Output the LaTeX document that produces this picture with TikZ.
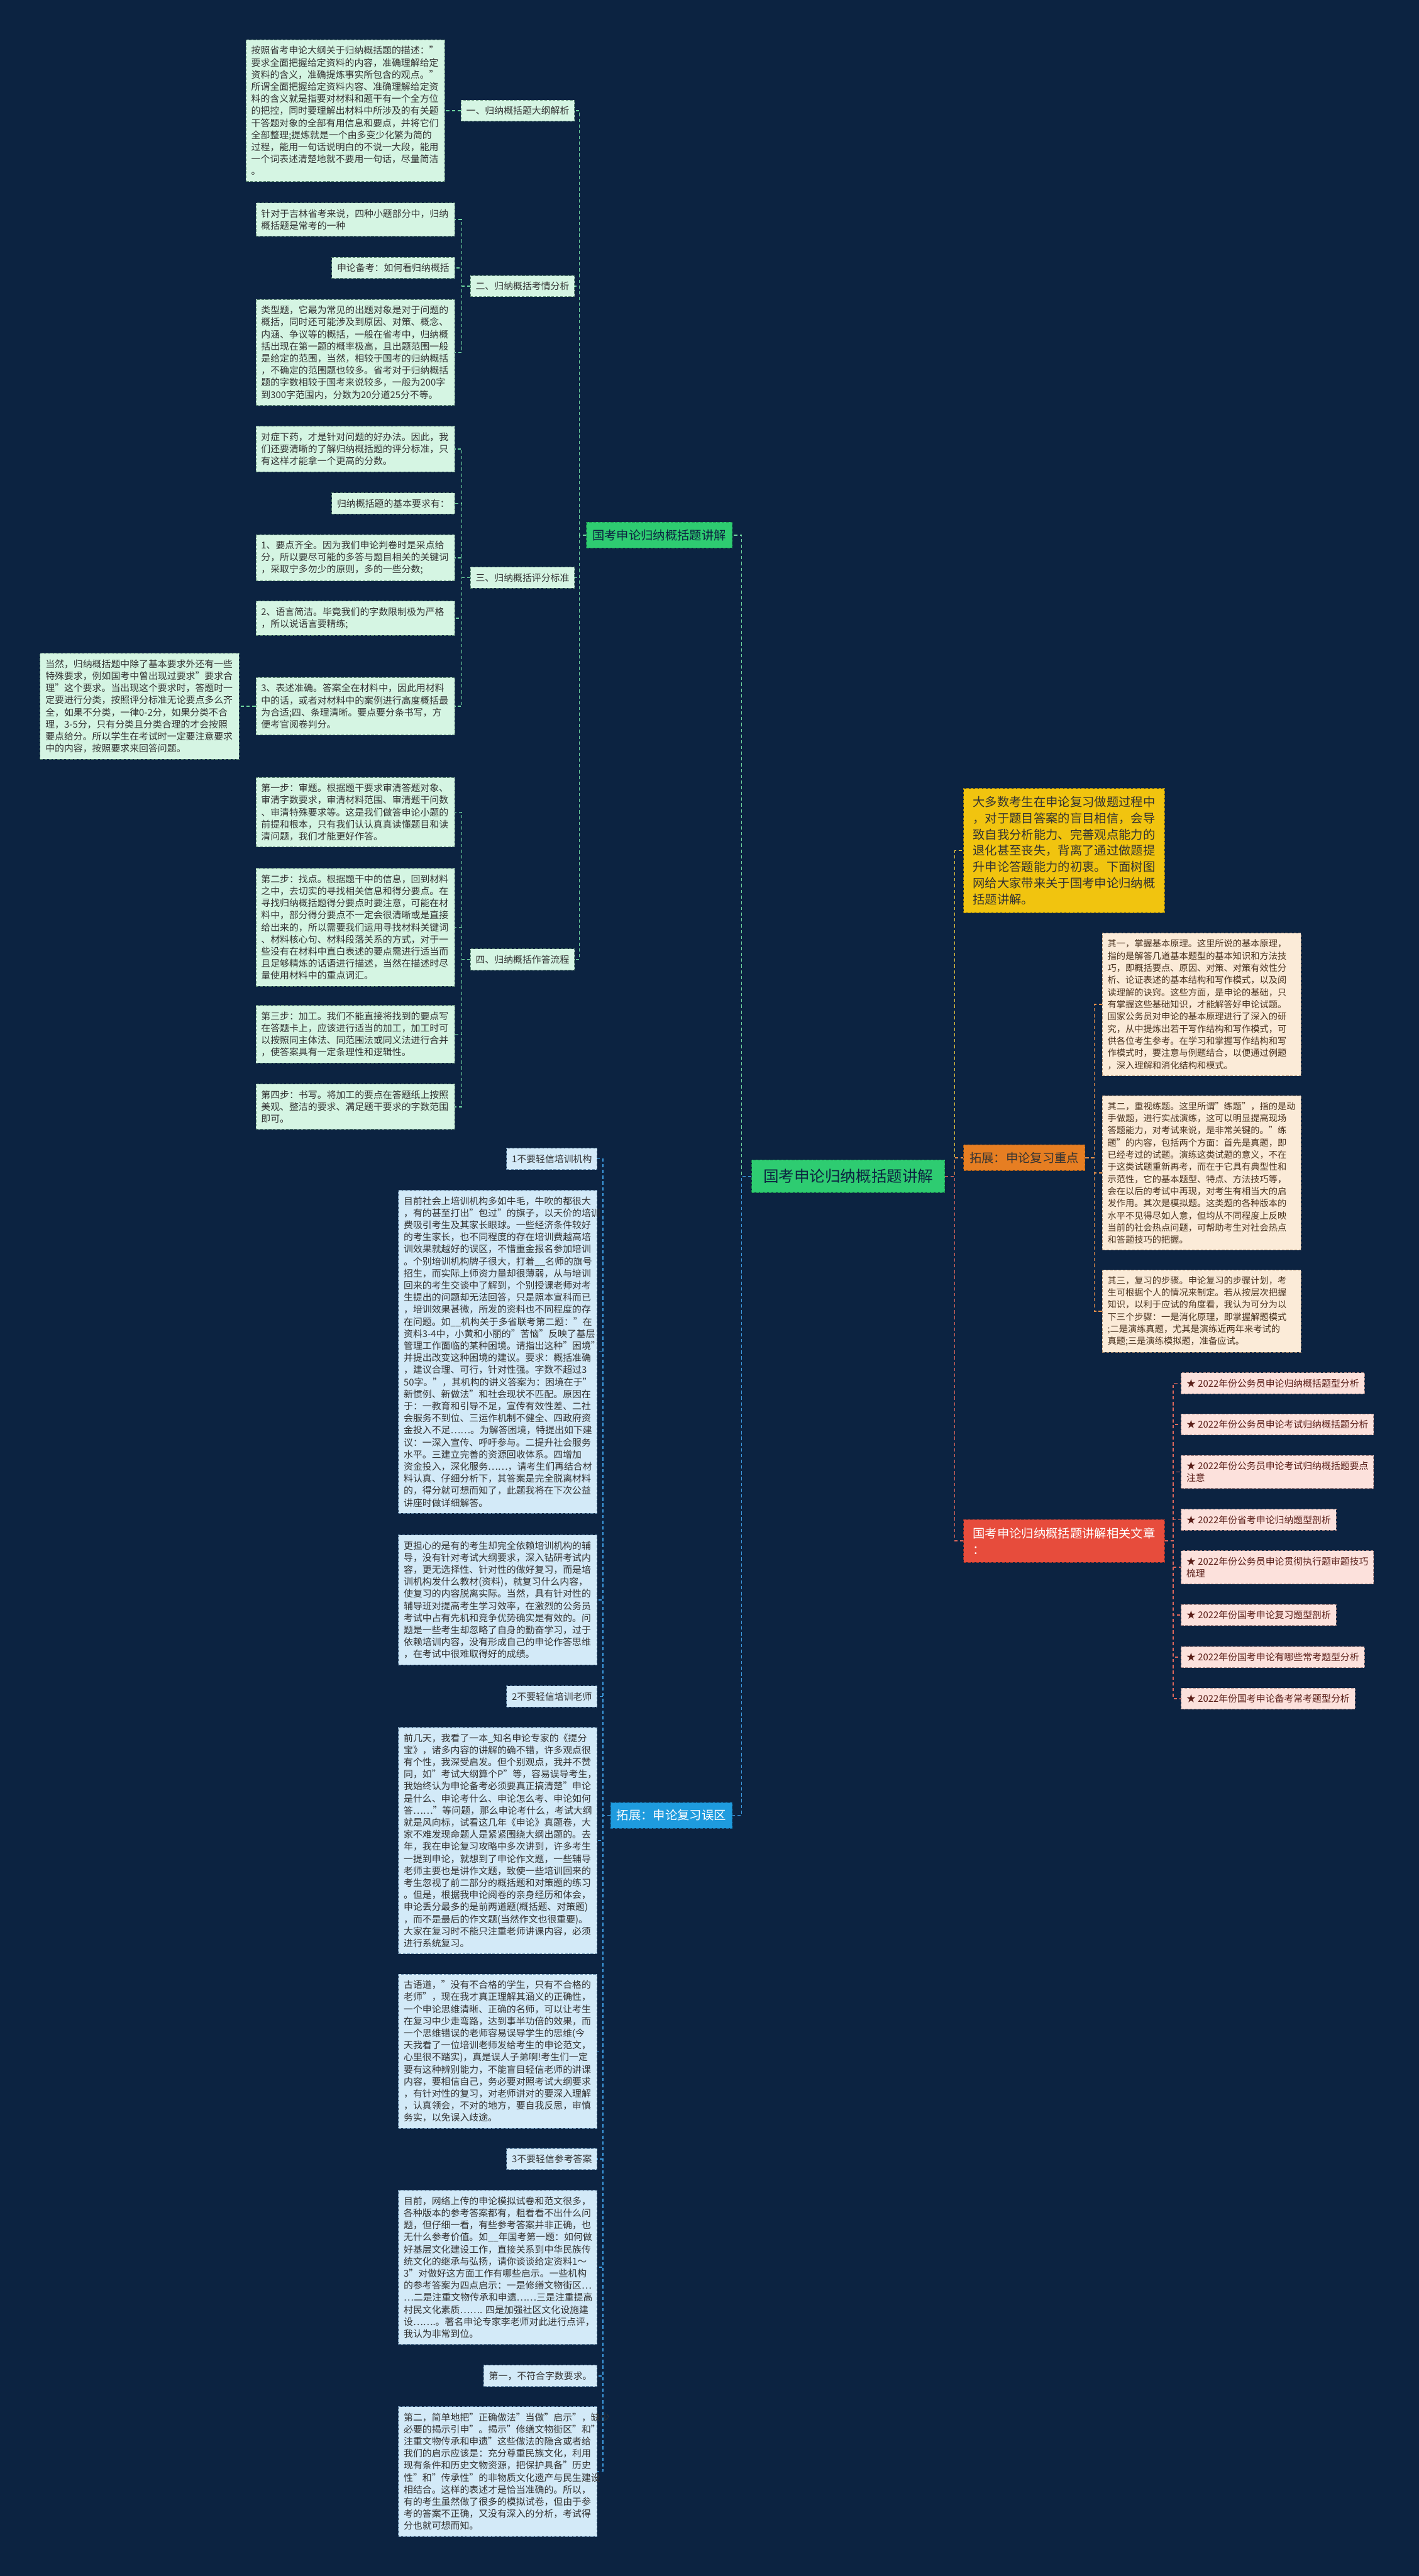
\documentclass[tikz,border=0pt]{standalone}
\usepackage{fontspec}
\setmainfont{Noto Sans CJK SC}
\usepackage[HTML]{xcolor}
\usetikzlibrary{positioning}

\definecolor{bgnavy}{HTML}{0C2341}
\definecolor{inkgray}{HTML}{333333}
\definecolor{mintfill}{HTML}{D5F5E3}
\definecolor{mintedge}{HTML}{5E8A72}
\definecolor{mintwire}{HTML}{6FD6A0}
\definecolor{greenhead}{HTML}{2ECC71}
\definecolor{greenedge}{HTML}{1E8C4C}
\definecolor{rootink}{HTML}{0C2341}
\definecolor{goldfill}{HTML}{F1C40F}
\definecolor{goldedge}{HTML}{A8870A}
\definecolor{goldwire}{HTML}{F4D03F}
\definecolor{orangehead}{HTML}{E67E22}
\definecolor{orangeedge}{HTML}{A85A14}
\definecolor{peachfill}{HTML}{FBEBD8}
\definecolor{peachedge}{HTML}{A88A6E}
\definecolor{peachink}{HTML}{4A3320}
\definecolor{orangewire}{HTML}{E8914A}
\definecolor{redhead}{HTML}{E74C3C}
\definecolor{rededge}{HTML}{A8352A}
\definecolor{pinkfill}{HTML}{FCE1DC}
\definecolor{pinkedge}{HTML}{B08A86}
\definecolor{pinkink}{HTML}{5A1E18}
\definecolor{redwire}{HTML}{E0685C}
\definecolor{bluehead}{HTML}{1E9BDE}
\definecolor{blueedge}{HTML}{14689A}
\definecolor{skyfill}{HTML}{D3EAF8}
\definecolor{skyedge}{HTML}{6A8FAE}
\definecolor{bluewire}{HTML}{3D9BE0}

\newcommand{\leaffont}{\fontsize{5.7}{7.35}\selectfont}
\newcommand{\peachfont}{\fontsize{5.45}{7.4}\selectfont}
\newcommand{\headfont}{\fontsize{7.4}{9.84}\selectfont}
\newcommand{\rootfont}{\fontsize{9.4}{11}\selectfont}

\tikzset{
  box/.style={line width=0.35pt, dash pattern=on 1.6pt off 1pt, inner xsep=3.2pt, inner ysep=3.8pt, align=left, font=\leaffont},
  gleaf/.style={box, draw=mintedge, fill=mintfill, text=inkgray},
  bleaf/.style={box, draw=skyedge, fill=skyfill, text=inkgray},
  oleaf/.style={box, draw=peachedge, fill=peachfill, text=peachink, font=\peachfont},
  rleaf/.style={box, draw=pinkedge, fill=pinkfill, text=pinkink},
  wide/.style={text width=114.6pt},
  head/.style={line width=0.35pt, dash pattern=on 1.6pt off 1pt, inner xsep=3.7pt, inner ysep=4.4pt, align=left, font=\headfont},
  wire/.style={line width=0.55pt, dash pattern=on 2pt off 1.5pt},
}

\begin{document}
\begin{tikzpicture}[x=1pt,y=-1pt]
\fill[bgnavy] (0,0) rectangle (864,1568);
\useasboundingbox (0,0) rectangle (864,1568);

% root
\node[head, fill=greenhead, draw=greenedge, text=rootink, font=\rootfont, inner xsep=7pt, inner ysep=5.6pt] (root) at (516.5,716) {国考申论归纳概括题讲解};

% first level
\node[head, fill=greenhead, draw=greenedge, text=rootink, anchor=east] (gk) at (446,325.7) {国考申论归纳概括题讲解};
\node[head, fill=bluehead, draw=blueedge, text=white, anchor=east] (wq) at (446,1105) {拓展：申论复习误区};
\node[head, fill=goldfill, draw=goldedge, text=inkgray, text width=111pt, inner xsep=5.7pt, inner ysep=4.9pt, anchor=west] (intro) at (586.5,517.8) {大多数考生在申论复习做题过程中\\
，对于题目答案的盲目相信，会导\\
致自我分析能力、完善观点能力的\\
退化甚至丧失，背离了通过做题提\\
升申论答题能力的初衷。下面树图\\
网给大家带来关于国考申论归纳概\\
括题讲解。};
\node[head, fill=orangehead, draw=orangeedge, text=inkgray, anchor=west] (zd) at (586.5,704.7) {拓展：申论复习重点};
\node[head, fill=redhead, draw=rededge, text=white, text width=111pt, inner xsep=5.7pt, inner ysep=4.9pt, anchor=west] (xg) at (586.5,937.9) {国考申论归纳概括题讲解相关文章\\：};

% green: section labels
\node[gleaf, anchor=east] (g1) at (350,67.4) {一、归纳概括题大纲解析};
\node[gleaf, anchor=east] (g2) at (350,174.1) {二、归纳概括考情分析};
\node[gleaf, anchor=east] (g3) at (350,351.6) {三、归纳概括评分标准};
\node[gleaf, anchor=east] (g4) at (350,584.05) {四、归纳概括作答流程};

% green: leaves
\node[gleaf, wide, anchor=east] (g1a) at (271,67.4) {按照省考申论大纲关于归纳概括题的描述："\\
要求全面把握给定资料的内容，准确理解给定\\
资料的含义，准确提炼事实所包含的观点。"\\
所谓全面把握给定资料内容、准确理解给定资\\
料的含义就是指要对材料和题干有一个全方位\\
的把控，同时要理解出材料中所涉及的有关题\\
干答题对象的全部有用信息和要点，并将它们\\
全部整理;提炼就是一个由多变少化繁为简的\\
过程，能用一句话说明白的不说一大段，能用\\
一个词表述清楚地就不要用一句话，尽量简洁\\
。};
\node[gleaf, wide, anchor=east] (g2a) at (277,133.65) {针对于吉林省考来说，四种小题部分中，归纳\\
概括题是常考的一种};
\node[gleaf, anchor=east] (g2b) at (277,163.1) {申论备考：如何看归纳概括};
\node[gleaf, wide, anchor=east] (g2c) at (277,214.5) {类型题，它最为常见的出题对象是对于问题的\\
概括，同时还可能涉及到原因、对策、概念、\\
内涵、争议等的概括，一般在省考中，归纳概\\
括出现在第一题的概率极高，且出题范围一般\\
是给定的范围，当然，相较于国考的归纳概括\\
，不确定的范围题也较多。省考对于归纳概括\\
题的字数相较于国考来说较多，一般为200字\\
到300字范围内，分数为20分道25分不等。};
\node[gleaf, wide, anchor=east] (g3a) at (277,273.3) {对症下药，才是针对问题的好办法。因此，我\\
们还要清晰的了解归纳概括题的评分标准，只\\
有这样才能拿一个更高的分数。};
\node[gleaf, anchor=east] (g3b) at (277,306.4) {归纳概括题的基本要求有：};
\node[gleaf, wide, anchor=east] (g3c) at (277,339.5) {1、要点齐全。因为我们申论判卷时是采点给\\
分，所以要尽可能的多答与题目相关的关键词\\
，采取宁多勿少的原则，多的一些分数;};
\node[gleaf, wide, anchor=east] (g3d) at (277,376.3) {2、语言简洁。毕竟我们的字数限制极为严格\\
，所以说语言要精练;};
\node[gleaf, wide, anchor=east] (g3e) at (277,429.9) {3、表述准确。答案全在材料中，因此用材料\\
中的话，或者对材料中的案例进行高度概括最\\
为合适;四、条理清晰。要点要分条书写，方\\
便考官阅卷判分。};
\node[gleaf, wide, anchor=east] (g3f) at ([xshift=-10pt]g3e.west) {当然，归纳概括题中除了基本要求外还有一些\\
特殊要求，例如国考中曾出现过要求"要求合\\
理"这个要求。当出现这个要求时，答题时一\\
定要进行分类，按照评分标准无论要点多么齐\\
全，如果不分类，一律\mbox{0-2}分，如果分类不合\\
理，\mbox{3-5}分，只有分类且分类合理的才会按照\\
要点给分。所以学生在考试时一定要注意要求\\
中的内容，按照要求来回答问题。};
\node[gleaf, wide, anchor=east] (g4a) at (277,494.4) {第一步：审题。根据题干要求审清答题对象、\\
审清字数要求，审清材料范围、审清题干问数\\
、审清特殊要求等。这是我们做答申论小题的\\
前提和根本，只有我们认认真真读懂题目和读\\
清问题，我们才能更好作答。};
\node[gleaf, wide, anchor=east] (g4b) at (277,564.4) {第二步：找点。根据题干中的信息，回到材料\\
之中，去切实的寻找相关信息和得分要点。在\\
寻找归纳概括题得分要点时要注意，可能在材\\
料中，部分得分要点不一定会很清晰或是直接\\
给出来的，所以需要我们运用寻找材料关键词\\
、材料核心句、材料段落关系的方式，对于一\\
些没有在材料中直白表述的要点需进行适当而\\
且足够精炼的话语进行描述，当然在描述时尽\\
量使用材料中的重点词汇。};
\node[gleaf, wide, anchor=east] (g4c) at (277,629.5) {第三步：加工。我们不能直接将找到的要点写\\
在答题卡上，应该进行适当的加工，加工时可\\
以按照同主体法、同范围法或同义法进行合并\\
，使答案具有一定条理性和逻辑性。};
\node[gleaf, wide, anchor=east] (g4d) at (277,673.7) {第四步：书写。将加工的要点在答题纸上按照\\
美观、整洁的要求、满足题干要求的字数范围\\
即可。};

% orange leaves
\node[oleaf, wide, anchor=west] (z1) at (671,611.4) {其一，掌握基本原理。这里所说的基本原理，\\
指的是解答几道基本题型的基本知识和方法技\\
巧，即概括要点、原因、对策、对策有效性分\\
析、论证表述的基本结构和写作模式，以及阅\\
读理解的诀窍。这些方面，是申论的基础，只\\
有掌握这些基础知识，才能解答好申论试题。\\
国家公务员对申论的基本原理进行了深入的研\\
究，从中提炼出若干写作结构和写作模式，可\\
供各位考生参考。在学习和掌握写作结构和写\\
作模式时，要注意与例题结合，以便通过例题\\
，深入理解和消化结构和模式。};
\node[oleaf, wide, anchor=west] (z2) at (671,713.95) {其二，重视练题。这里所谓"练题"，指的是动\\
手做题，进行实战演练，这可以明显提高现场\\
答题能力，对考试来说，是非常关键的。"练\\
题"的内容，包括两个方面：首先是真题，即\\
已经考过的试题。演练这类试题的意义，不在\\
于这类试题重新再考，而在于它具有典型性和\\
示范性，它的基本题型、特点、方法技巧等，\\
会在以后的考试中再现，对考生有相当大的启\\
发作用。其次是模拟题。这类题的各种版本的\\
水平不见得尽如人意，但均从不同程度上反映\\
当前的社会热点问题，可帮助考生对社会热点\\
和答题技巧的把握。};
\node[oleaf, wide, anchor=west] (z3) at (671,798.1) {其三，复习的步骤。申论复习的步骤计划，考\\
生可根据个人的情况来制定。若从按层次把握\\
知识，以利于应试的角度看，我认为可分为以\\
下三个步骤：一是消化原理，即掌握解题模式\\
;二是演练真题，尤其是演练近两年来考试的\\
真题;三是演练模拟题，准备应试。};

% red leaves
\node[rleaf, anchor=west] (x1) at (719,842) {★ 2022年份公务员申论归纳概括题型分析};
\node[rleaf, anchor=west] (x2) at (719,867) {★ 2022年份公务员申论考试归纳概括题分析};
\node[rleaf, anchor=west] (x3) at (719,896) {★ 2022年份公务员申论考试归纳概括题要点\\注意};
\node[rleaf, anchor=west] (x4) at (719,925) {★ 2022年份省考申论归纳题型剖析};
\node[rleaf, anchor=west] (x5) at (719,954) {★ 2022年份公务员申论贯彻执行题审题技巧\\梳理};
\node[rleaf, anchor=west] (x6) at (719,983) {★ 2022年份国考申论复习题型剖析};
\node[rleaf, anchor=west] (x7) at (719,1008.7) {★ 2022年份国考申论有哪些常考题型分析};
\node[rleaf, anchor=west] (x8) at (719,1034) {★ 2022年份国考申论备考常考题型分析};

% blue leaves
\node[bleaf, anchor=east] (w1) at (363.8,705.4) {1不要轻信培训机构};
\node[bleaf, wide, anchor=east] (w2) at (363.8,822.85) {目前社会上培训机构多如牛毛，牛吹的都很大\\
，有的甚至打出"包过"的旗子，以天价的培训\\
费吸引考生及其家长眼球。一些经济条件较好\\
的考生家长，也不同程度的存在培训费越高培\\
训效果就越好的误区，不惜重金报名参加培训\\
。个别培训机构牌子很大，打着\_\_名师的旗号\\
招生，而实际上师资力量却很薄弱，从与培训\\
回来的考生交谈中了解到，个别授课老师对考\\
生提出的问题却无法回答，只是照本宣科而已\\
，培训效果甚微，所发的资料也不同程度的存\\
在问题。如\_\_机构关于多省联考第二题："在\\
资料\mbox{3-4}中，小黄和小丽的"苦恼"反映了基层\\
管理工作面临的某种困境。请指出这种"困境"\\
并提出改变这种困境的建议。要求：概括准确\\
，建议合理、可行，针对性强。字数不超过3\\
50字。"，其机构的讲义答案为：困境在于"\\
新惯例、新做法"和社会现状不匹配。原因在\\
于：一教育和引导不足，宣传有效性差、二社\\
会服务不到位、三运作机制不健全、四政府资\\
金投入不足……。为解答困境，特提出如下建\\
议：一深入宣传、呼吁参与。二提升社会服务\\
水平。三建立完善的资源回收体系。四增加\\
资金投入，深化服务……，请考生们再结合材\\
料认真、仔细分析下，其答案是完全脱离材料\\
的，得分就可想而知了，此题我将在下次公益\\
讲座时做详细解答。};
\node[bleaf, wide, anchor=east] (w3) at (363.8,973.85) {更担心的是有的考生却完全依赖培训机构的辅\\
导，没有针对考试大纲要求，深入钻研考试内\\
容，更无选择性、针对性的做好复习，而是培\\
训机构发什么教材(资料)，就复习什么内容，\\
使复习的内容脱离实际。当然，具有针对性的\\
辅导班对提高考生学习效率，在激烈的公务员\\
考试中占有先机和竞争优势确实是有效的。问\\
题是一些考生却忽略了自身的勤奋学习，过于\\
依赖培训内容，没有形成自己的申论作答思维\\
，在考试中很难取得好的成绩。};
\node[bleaf, anchor=east] (w4) at (363.8,1032.6) {2不要轻信培训老师};
\node[bleaf, wide, anchor=east] (w5) at (363.8,1120.35) {前几天，我看了一本\_知名申论专家的《提分\\
宝》，诸多内容的讲解的确不错，许多观点很\\
有个性，我深受启发。但个别观点，我并不赞\\
同，如"考试大纲算个P"等，容易误导考生，\\
我始终认为申论备考必须要真正搞清楚"申论\\
是什么、申论考什么、申论怎么考、申论如何\\
答……"等问题，那么申论考什么，考试大纲\\
就是风向标，试看这几年《申论》真题卷，大\\
家不难发现命题人是紧紧围绕大纲出题的。去\\
年，我在申论复习攻略中多次讲到，许多考生\\
一提到申论，就想到了申论作文题，一些辅导\\
老师主要也是讲作文题，致使一些培训回来的\\
考生忽视了前二部分的概括题和对策题的练习\\
。但是，根据我申论阅卷的亲身经历和体会，\\
申论丢分最多的是前两道题(概括题、对策题)\\
，而不是最后的作文题(当然作文也很重要)。\\
大家在复习时不能只注重老师讲课内容，必须\\
进行系统复习。};
\node[bleaf, wide, anchor=east] (w6) at (363.8,1248.6) {古语道，"没有不合格的学生，只有不合格的\\
老师"，现在我才真正理解其涵义的正确性，\\
一个申论思维清晰、正确的名师，可以让考生\\
在复习中少走弯路，达到事半功倍的效果，而\\
一个思维错误的老师容易误导学生的思维(今\\
天我看了一位培训老师发给考生的申论范文，\\
心里很不踏实)，真是误人子弟啊!考生们一定\\
要有这种辨别能力，不能盲目轻信老师的讲课\\
内容，要相信自己，务必要对照考试大纲要求\\
，有针对性的复习，对老师讲对的要深入理解\\
，认真领会，不对的地方，要自我反思，审慎\\
务实，以免误入歧途。};
\node[bleaf, anchor=east] (w7) at (363.8,1314.2) {3不要轻信参考答案};
\node[bleaf, wide, anchor=east] (w8) at (363.8,1380.1) {目前，网络上传的申论模拟试卷和范文很多，\\
各种版本的参考答案都有，粗看看不出什么问\\
题，但仔细一看，有些参考答案并非正确，也\\
无什么参考价值。如\_\_年国考第一题：如何做\\
好基层文化建设工作，直接关系到中华民族传\\
统文化的继承与弘扬，请你谈谈给定资料1～\\
3"对做好这方面工作有哪些启示。一些机构\\
的参考答案为四点启示：一是修缮文物街区…\\
…二是注重文物传承和申遗……三是注重提高\\
村民文化素质…….~四是加强社区文化设施建\\
设…….。著名申论专家李老师对此进行点评，\\
我认为非常到位。};
\node[bleaf, anchor=east] (w9) at (363.8,1446.2) {第一，不符合字数要求。};
\node[bleaf, wide, anchor=east] (w10) at (363.8,1504.35) {第二，简单地把"正确做法"当做"启示"，缺少\\
必要的揭示引申"。揭示"修缮文物街区"和"\\
注重文物传承和申遗"这些做法的隐含或者给\\
我们的启示应该是：充分尊重民族文化，利用\\
现有条件和历史文物资源，把保护具备"历史\\
性"和"传承性"的非物质文化遗产与民生建设\\
相结合。这样的表述才是恰当准确的。所以，\\
有的考生虽然做了很多的模拟试卷，但由于参\\
考的答案不正确，又没有深入的分析，考试得\\
分也就可想而知。};

% root connectors
\draw[wire, mintwire] (root.west) -- ++(-6,0) |- (gk.east);
\draw[wire, bluewire] (root.west) -- ++(-6,0) |- (wq.east);
\draw[wire, goldwire] (root.east) -- ++(6,0) |- (intro.west);
\draw[wire, orangewire] (root.east) -- ++(6,0) |- (zd.west);
\draw[wire, redwire] (root.east) -- ++(6,0) |- (xg.west);

% green connectors
\draw[wire, mintwire] (gk.west) -- ++(-4,0) |- (g1.east);
\draw[wire, mintwire] (gk.west) -- ++(-4,0) |- (g2.east);
\draw[wire, mintwire] (gk.west) -- ++(-4,0) |- (g3.east);
\draw[wire, mintwire] (gk.west) -- ++(-4,0) |- (g4.east);
\draw[wire, mintwire] (g1.west) -- (g1a.east);
\draw[wire, mintwire] (g2.west) -- ++(-5,0) |- (g2a.east);
\draw[wire, mintwire] (g2.west) -- ++(-5,0) |- (g2b.east);
\draw[wire, mintwire] (g2.west) -- ++(-5,0) |- (g2c.east);
\draw[wire, mintwire] (g3.west) -- ++(-5,0) |- (g3a.east);
\draw[wire, mintwire] (g3.west) -- ++(-5,0) |- (g3b.east);
\draw[wire, mintwire] (g3.west) -- ++(-5,0) |- (g3c.east);
\draw[wire, mintwire] (g3.west) -- ++(-5,0) |- (g3d.east);
\draw[wire, mintwire] (g3.west) -- ++(-5,0) |- (g3e.east);
\draw[wire, mintwire] (g3e.west) -- (g3f.east);
\draw[wire, mintwire] (g4.west) -- ++(-5,0) |- (g4a.east);
\draw[wire, mintwire] (g4.west) -- ++(-5,0) |- (g4b.east);
\draw[wire, mintwire] (g4.west) -- ++(-5,0) |- (g4c.east);
\draw[wire, mintwire] (g4.west) -- ++(-5,0) |- (g4d.east);

% orange connectors
\draw[wire, orangewire] (zd.east) -- ++(5.5,0) |- (z1.west);
\draw[wire, orangewire] (zd.east) -- ++(5.5,0) |- (z2.west);
\draw[wire, orangewire] (zd.east) -- ++(5.5,0) |- (z3.west);

% red connectors
\draw[wire, redwire] (xg.east) -- ++(5,0) |- (x1.west);
\draw[wire, redwire] (xg.east) -- ++(5,0) |- (x2.west);
\draw[wire, redwire] (xg.east) -- ++(5,0) |- (x3.west);
\draw[wire, redwire] (xg.east) -- ++(5,0) |- (x4.west);
\draw[wire, redwire] (xg.east) -- ++(5,0) |- (x5.west);
\draw[wire, redwire] (xg.east) -- ++(5,0) |- (x6.west);
\draw[wire, redwire] (xg.east) -- ++(5,0) |- (x7.west);
\draw[wire, redwire] (xg.east) -- ++(5,0) |- (x8.west);

% blue connectors
\draw[wire, bluewire] (wq.west) -- ++(-4.6,0) |- (w1.east);
\draw[wire, bluewire] (wq.west) -- ++(-4.6,0) |- (w2.east);
\draw[wire, bluewire] (wq.west) -- ++(-4.6,0) |- (w3.east);
\draw[wire, bluewire] (wq.west) -- ++(-4.6,0) |- (w4.east);
\draw[wire, bluewire] (wq.west) -- ++(-4.6,0) |- (w5.east);
\draw[wire, bluewire] (wq.west) -- ++(-4.6,0) |- (w6.east);
\draw[wire, bluewire] (wq.west) -- ++(-4.6,0) |- (w7.east);
\draw[wire, bluewire] (wq.west) -- ++(-4.6,0) |- (w8.east);
\draw[wire, bluewire] (wq.west) -- ++(-4.6,0) |- (w9.east);
\draw[wire, bluewire] (wq.west) -- ++(-4.6,0) |- (w10.east);
\end{tikzpicture}
\end{document}
